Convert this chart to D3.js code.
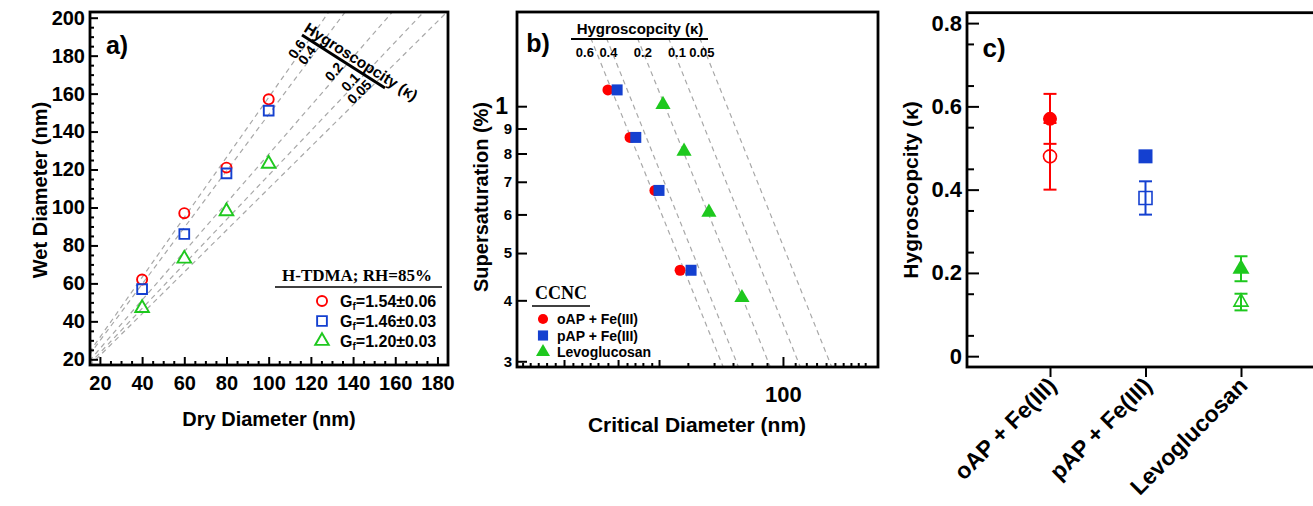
<!DOCTYPE html>
<html>
<head>
<meta charset="utf-8">
<script src="https://cdn.jsdelivr.net/npm/d3@7"></script>
<style>
  body { margin: 0; background: #fff; }
  text { font-family: "Liberation Sans", Arial, sans-serif; font-weight: bold; fill: #000; }
</style>
</head>
<body>
<svg id="fig" width="1313" height="506"></svg>
<script>
// ---- panel a: H-TDMA growth ----
var dryDiam = [40, 60, 80, 100];
var wetOAP = [62, 97, 121, 157];
var wetPAP = [57, 86, 118, 151];
var wetLevo = [47, 73, 98, 123];
var gfLegend = ["1.54±0.06", "1.46±0.03", "1.20±0.03"];
var kappaLabels = ["0.6", "0.4", "0.2", "0.1", "0.05"];
var kappaGf = [1.58, 1.49, 1.28, 1.17, 1.10];   // growth factor of each kappa line
var ticksAx = [20, 40, 60, 80, 100, 120, 140, 160, 180];
var ticksAy = [20, 40, 60, 80, 100, 120, 140, 160, 180, 200];

// ---- panel b: CCNC activation ----
var ssOAP = [1.08, 0.863, 0.672, 0.461];
var dcOAP = [25.5, 30.3, 36.8, 44.8];
var ssPAP = [1.08, 0.863, 0.672, 0.461];
var dcPAP = [27.4, 31.7, 38.0, 48.8];
var ssLevo = [1.008, 0.808, 0.606, 0.405];
var dcLevo = [39.2, 46.2, 56.1, 72.6];
var kappaSS = [1.38, 0.29];                      // supersaturation at line top / bottom
var kappaDcTop = [22.3, 25.2, 32.1, 40.9, 52.2];
var kappaDcBottom = [63, 71, 91, 115, 147];
var kappaLabelDc = [21.3, 25.6, 33.5, 43.7, 53.1];
var ssTicks = [1, 0.9, 0.8, 0.7, 0.6, 0.5, 0.4, 0.3];
var ssTickLabels = ["1", "9", "8", "7", "6", "5", "4", "3"];
var dcMajorTicks = [100];
var dcMidTicks = [18.1, 27.6, 38];
var dcMinorTicks = [13.1, 13.9, 14.8, 15.8, 16.9, 19.4, 20.8, 22.2, 23.6, 25.5, 29.6, 31.5, 33.5, 35.9,
                    47.6, 58.4, 67.7, 78.5, 88.3, 110, 120, 130, 140, 150, 160, 170, 180, 190];

// ---- panel c: kappa summary ----
var categories = ["oAP + Fe(III)", "pAP + Fe(III)", "Levoglucosan"];
var kappaCCN = [0.57, 0.48, 0.21];
var errCCN = [0.06, 0.01, 0.03];
var kappaHTDMA = [0.48, 0.38, 0.13];
var errHTDMA = [0.08, 0.04, 0.02];
var ticksCy = [0, 0.2, 0.4, 0.6, 0.8];

var red = "#ff0000", blue = "#1440d0", green = "#1ec81e";
var serif = '"Liberation Serif", "Times New Roman", serif';
var dash = { stroke: "#a8a8a8", width: 1.2, array: "5,4" };

var svg = d3.select("#fig");

function styleAxis(g, size) {
  g.select(".domain").remove();
  g.selectAll(".tick line").attr("stroke", "#000").attr("stroke-width", 2);
  g.selectAll(".tick text").attr("font-size", size).attr("fill", "#000");
}
function frame(x0, y0, x1, y1) {
  svg.append("rect").attr("x", x0).attr("y", y0).attr("width", x1 - x0).attr("height", y1 - y0)
    .attr("fill", "none").attr("stroke", "#000").attr("stroke-width", 2.8);
}
function sym(type, size) { return d3.symbol().type(type).size(size)(); }

// ================= panel a =================
var xA = d3.scaleLinear().domain([15.3, 185]).range([90, 448]);
var yA = d3.scaleLinear().domain([17, 203]).range([365, 12]);

svg.append("clipPath").attr("id", "clipA").append("rect")
  .attr("x", 90).attr("y", 12).attr("width", 358).attr("height", 353);

var lineA = d3.line().x(d => xA(d[0])).y(d => yA(d[1]));
svg.append("g").attr("clip-path", "url(#clipA)")
  .selectAll("path").data(kappaGf).join("path")
  .attr("d", g => lineA([[15, 15 * g], [185, 185 * g]]))
  .attr("fill", "none").attr("stroke", dash.stroke).attr("stroke-width", dash.width)
  .attr("stroke-dasharray", dash.array);

var seriesA = [
  { wet: wetOAP, type: d3.symbolCircle, size: 80, color: red },
  { wet: wetPAP, type: d3.symbolSquare, size: 95, color: blue },
  { wet: wetLevo, type: d3.symbolTriangle, size: 80, color: green }
];
seriesA.forEach(s => {
  svg.append("g").selectAll("path").data(dryDiam).join("path")
    .attr("transform", (d, i) => "translate(" + xA(d) + "," + yA(s.wet[i]) + ")")
    .attr("d", sym(s.type, s.size))
    .attr("fill", "none").attr("stroke", s.color).attr("stroke-width", 1.9);
});

svg.append("g").attr("transform", "translate(0,365)")
  .call(d3.axisBottom(xA).tickValues(d3.range(20, 185, 5).filter(v => v % 20)).tickSize(-4).tickFormat(""))
  .call(g => styleAxis(g, 20));
svg.append("g").attr("transform", "translate(0,365)")
  .call(d3.axisBottom(xA).tickValues(ticksAx).tickSize(-8).tickPadding(11))
  .call(g => styleAxis(g, 20));
svg.append("g").attr("transform", "translate(90,0)")
  .call(d3.axisLeft(yA).tickValues(d3.range(20, 201, 5).filter(v => v % 20)).tickSize(-4).tickFormat(""))
  .call(g => styleAxis(g, 20));
svg.append("g").attr("transform", "translate(90,0)")
  .call(d3.axisLeft(yA).tickValues(ticksAy).tickSize(-8).tickPadding(5))
  .call(g => styleAxis(g, 20));
frame(90, 12, 448, 365);

svg.append("text").attr("x", 117).attr("y", 54).attr("text-anchor", "middle")
  .attr("font-size", 25).text("a)");
svg.append("text").attr("transform", "translate(40,190) rotate(-90)").attr("text-anchor", "middle")
  .attr("dominant-baseline", "central").attr("font-size", 20).text("Wet Diameter (nm)");
svg.append("text").attr("x", 269).attr("y", 426).attr("text-anchor", "middle")
  .attr("font-size", 20).text("Dry Diameter (nm)");

// kappa annotation bar
var barS = [302, 35], barE = [385, 88];
var barAng = Math.atan2(barE[1] - barS[1], barE[0] - barS[0]) * 180 / Math.PI;
svg.append("line").attr("x1", barS[0]).attr("y1", barS[1]).attr("x2", barE[0]).attr("y2", barE[1])
  .attr("stroke", "#000").attr("stroke-width", 3);
svg.append("text").attr("transform", "translate(" + (barS[0] + 1) + "," + (barS[1] - 4) + ") rotate(" + barAng + ")")
  .attr("font-size", 15.5).text("Hygroscopcity (κ)");
kappaGf.forEach((g, i) => {
  var p0 = [xA(15), yA(15 * g)], p1 = [xA(185), yA(185 * g)];
  // intersection of the kappa line with the bar
  var d1 = [p1[0] - p0[0], p1[1] - p0[1]], d2 = [barE[0] - barS[0], barE[1] - barS[1]];
  var den = d1[0] * d2[1] - d1[1] * d2[0];
  var t = ((barS[0] - p0[0]) * d2[1] - (barS[1] - p0[1]) * d2[0]) / den;
  var len = Math.hypot(d1[0], d1[1]);
  var ux = d1[0] / len, uy = d1[1] / len;
  var px = p0[0] + t * d1[0] - 5 * ux, py = p0[1] + t * d1[1] - 5 * uy;
  var ang = Math.atan2(uy, ux) * 180 / Math.PI;
  svg.append("text").attr("transform", "translate(" + px + "," + py + ") rotate(" + ang + ")")
    .attr("text-anchor", "end").attr("font-size", 14).text(kappaLabels[i]);
});

// legend a
svg.append("text").attr("x", 357).attr("y", 281).attr("text-anchor", "middle")
  .style("font-family", serif).attr("font-size", 17).text("H-TDMA; RH=85%");
svg.append("line").attr("x1", 275).attr("x2", 442).attr("y1", 287).attr("y2", 287)
  .attr("stroke", "#000").attr("stroke-width", 1.5);
seriesA.forEach((s, i) => {
  var yy = 301 + i * 20;
  svg.append("path").attr("transform", "translate(322," + yy + ")").attr("d", sym(s.type, s.size))
    .attr("fill", "none").attr("stroke", s.color).attr("stroke-width", 1.9);
  var t = svg.append("text").attr("x", 340).attr("y", yy + 6).attr("font-size", 16);
  t.append("tspan").text("G");
  t.append("tspan").attr("font-size", 10).attr("dy", 3).text("f");
  t.append("tspan").attr("dy", -3).text("=" + gfLegend[i]);
});

// ================= panel b =================
var xB = d3.scaleLog().domain([12.54, 210]).range([517, 878]);
var yB = d3.scaleLog().domain([0.292, 1.56]).range([367, 12]);

svg.append("clipPath").attr("id", "clipB").append("rect")
  .attr("x", 517).attr("y", 12).attr("width", 361).attr("height", 355);
var lineB = d3.line().x(d => xB(d[0])).y(d => yB(d[1]));
svg.append("g").attr("clip-path", "url(#clipB)")
  .selectAll("path").data(kappaLabels).join("path")
  .attr("d", (k, i) => lineB([[kappaDcTop[i], kappaSS[0]], [kappaDcBottom[i], kappaSS[1]]]))
  .attr("fill", "none").attr("stroke", dash.stroke).attr("stroke-width", dash.width)
  .attr("stroke-dasharray", dash.array);

var seriesB = [
  { dc: dcOAP, ss: ssOAP, type: d3.symbolCircle, size: 95, color: red, name: "oAP + Fe(III)" },
  { dc: dcPAP, ss: ssPAP, type: d3.symbolSquare, size: 121, color: blue, name: "pAP + Fe(III)" },
  { dc: dcLevo, ss: ssLevo, type: d3.symbolTriangle, size: 100, color: green, name: "Levoglucosan" }
];
seriesB.forEach(s => {
  svg.append("g").selectAll("path").data(s.dc).join("path")
    .attr("transform", (d, i) => "translate(" + xB(d) + "," + yB(s.ss[i]) + ")")
    .attr("d", sym(s.type, s.size)).attr("fill", s.color);
});

svg.append("g").attr("transform", "translate(0,367)")
  .call(d3.axisBottom(xB).tickValues(dcMinorTicks).tickSize(-4).tickFormat(""))
  .call(g => styleAxis(g, 20));
svg.append("g").attr("transform", "translate(0,367)")
  .call(d3.axisBottom(xB).tickValues(dcMidTicks).tickSize(-7).tickFormat(""))
  .call(g => styleAxis(g, 20));
svg.append("g").attr("transform", "translate(0,367)")
  .call(d3.axisBottom(xB).tickValues(dcMajorTicks).tickSize(-10).tickPadding(19).tickFormat(d3.format("d")))
  .call(g => styleAxis(g, 22));
svg.append("g").attr("transform", "translate(517,0)")
  .call(d3.axisLeft(yB).tickValues(ssTicks).tickSize(-10).tickPadding(5)
    .tickFormat((d, i) => ssTickLabels[i]))
  .call(g => styleAxis(g, 15))
  .call(g => g.selectAll(".tick text").filter(d => d === 1).attr("font-size", 23).attr("x", -9));
frame(517, 12, 878, 367);

svg.append("text").attr("x", 538).attr("y", 52).attr("text-anchor", "middle")
  .attr("font-size", 25).text("b)");
svg.append("text").attr("transform", "translate(481,197) rotate(-90)").attr("text-anchor", "middle")
  .attr("dominant-baseline", "central").attr("font-size", 20).text("Supersaturation (%)");
svg.append("text").attr("x", 697).attr("y", 432).attr("text-anchor", "middle")
  .attr("font-size", 21).text("Critical Diameter (nm)");

svg.append("text").attr("x", 640).attr("y", 34).attr("text-anchor", "middle")
  .attr("font-size", 15).text("Hygroscopcity (κ)");
svg.append("line").attr("x1", 571).attr("x2", 708).attr("y1", 39).attr("y2", 39)
  .attr("stroke", "#000").attr("stroke-width", 2);
kappaLabels.forEach((k, i) => {
  svg.append("text").attr("x", xB(kappaLabelDc[i])).attr("y", 57).attr("text-anchor", "middle")
    .attr("font-size", 13).text(k);
});

// legend b
svg.append("text").attr("x", 561).attr("y", 299).attr("text-anchor", "middle")
  .style("font-family", serif).attr("font-size", 18).text("CCNC");
svg.append("line").attr("x1", 532).attr("x2", 590).attr("y1", 306).attr("y2", 306)
  .attr("stroke", "#000").attr("stroke-width", 1.5);
seriesB.forEach((s, i) => {
  var yy = 319 + i * 16.5;
  svg.append("path").attr("transform", "translate(543," + yy + ")").attr("d", sym(s.type, s.size * 0.85))
    .attr("fill", s.color);
  svg.append("text").attr("x", 557).attr("y", yy + 5).attr("font-size", 14).text(s.name);
});

// ================= panel c =================
var xC = d3.scalePoint().domain(categories).range([1050, 1241]);
var yC = d3.scaleLinear().domain([-0.026, 0.825]).range([367, 12.7]);

svg.append("g").attr("transform", "translate(967,0)")
  .call(d3.axisLeft(yC).tickValues(d3.range(0.05, 0.8, 0.1)).tickSize(-7).tickFormat(""))
  .call(g => styleAxis(g, 22));
svg.append("g").attr("transform", "translate(967,0)")
  .call(d3.axisLeft(yC).tickValues(ticksCy).tickSize(-12).tickPadding(5)
    .tickFormat(d => d === 0 ? "0" : d3.format(".1f")(d)))
  .call(g => styleAxis(g, 22));
svg.append("g").attr("transform", "translate(0,367)")
  .call(d3.axisBottom(xC).tickSize(10).tickFormat(""))
  .call(g => styleAxis(g, 22));
frame(967, 12.7, 1340, 367);

categories.forEach(c => {
  svg.append("text").attr("transform", "translate(" + (xC(c) + 8) + "," + 387 + ") rotate(-45)")
    .attr("text-anchor", "end").attr("font-size", 23).text(c);
});

svg.append("text").attr("x", 994).attr("y", 57).attr("text-anchor", "middle")
  .attr("font-size", 26).text("c)");
svg.append("text").attr("transform", "translate(910,190) rotate(-90)").attr("text-anchor", "middle")
  .attr("dominant-baseline", "central").attr("font-size", 21).text("Hygroscopcity (κ)");

var colorsC = [red, blue, green];
var typesC = [d3.symbolCircle, d3.symbolSquare, d3.symbolTriangle];
var openSize = [133, 169, 85], fillSize = [154, 196, 125];

function errBar(vals, errs) {
  categories.forEach((c, i) => {
    var x = xC(c), g = svg.append("g").attr("stroke", colorsC[i]).attr("stroke-width", 2);
    g.append("line").attr("x1", x).attr("x2", x).attr("y1", yC(vals[i] - errs[i])).attr("y2", yC(vals[i] + errs[i]));
    [vals[i] - errs[i], vals[i] + errs[i]].forEach(v => {
      g.append("line").attr("x1", x - 6.5).attr("x2", x + 6.5).attr("y1", yC(v)).attr("y2", yC(v));
    });
  });
}
errBar(kappaHTDMA, errHTDMA);
errBar(kappaCCN, errCCN);

svg.append("g").selectAll("path").data(categories).join("path")
  .attr("transform", (c, i) => "translate(" + xC(c) + "," + yC(kappaHTDMA[i]) + ")")
  .attr("d", (c, i) => sym(typesC[i], openSize[i]))
  .attr("fill", "none").attr("stroke", (c, i) => colorsC[i]).attr("stroke-width", 1.6);
svg.append("g").selectAll("path").data(categories).join("path")
  .attr("transform", (c, i) => "translate(" + xC(c) + "," + yC(kappaCCN[i]) + ")")
  .attr("d", (c, i) => sym(typesC[i], fillSize[i]))
  .attr("fill", (c, i) => colorsC[i]);
</script>
</body>
</html>
